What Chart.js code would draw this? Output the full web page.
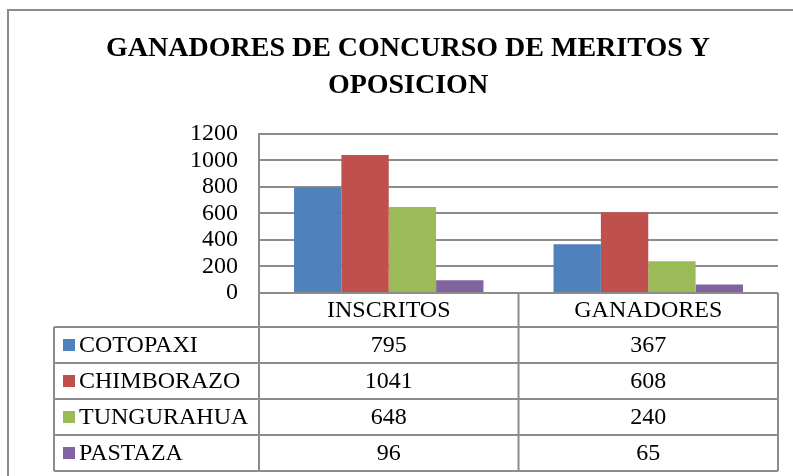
<!DOCTYPE html>
<html>
<head>
<meta charset="utf-8">
<script src="https://cdn.jsdelivr.net/npm/chart.js@4"></script>
<style>
  html, body { margin: 0; padding: 0; background: #ffffff; }
  canvas { display: block; }
</style>
</head>
<body>
<canvas id="grafico" width="793" height="476"></canvas>
<script>
// datos del grafico
const categorias = ["INSCRITOS", "GANADORES"];
const provincias = ["COTOPAXI", "CHIMBORAZO", "TUNGURAHUA", "PASTAZA"];
const cotopaxi = [795, 367];
const chimborazo = [1041, 608];
const tungurahua = [648, 240];
const pastaza = [96, 65];
const colores = ["#4F81BD", "#C0504D", "#9BBB59", "#8064A2"];
const ticksY = [0, 200, 400, 600, 800, 1000, 1200];

const fuente = "'Liberation Serif', 'Times New Roman', serif";
const gris = "#8c8c8c";
const margenIzq = 38;

// borde exterior + tabla de datos debajo del grafico
const tablaDatos = {
  id: "tablaDatos",
  beforeDraw(chart) {
    const ctx = chart.ctx;
    ctx.save();
    ctx.fillStyle = "#ffffff";
    ctx.fillRect(0, 0, chart.width, chart.height);
    ctx.strokeStyle = gris;
    ctx.lineWidth = 2;
    ctx.strokeRect(8, 10, chart.width + 20, chart.height + 20);
    ctx.restore();
  },
  afterDraw(chart) {
    const ctx = chart.ctx;
    const area = chart.chartArea;
    const x = chart.scales.x;
    const series = chart.data.datasets;
    const izq = 54;
    const altoCab = 34;
    const altoFila = 36;
    const yCab = area.bottom;
    const yFilas = yCab + altoCab;
    const yFin = yFilas + altoFila * series.length;
    const paso = x.getPixelForValue(1) - x.getPixelForValue(0);

    ctx.save();
    ctx.strokeStyle = gris;
    ctx.lineWidth = 2;
    ctx.beginPath();
    // lineas verticales
    ctx.moveTo(izq, yFilas); ctx.lineTo(izq, yFin);
    for (let i = 0; i <= categorias.length; i++) {
      const xl = i < categorias.length ? x.getPixelForValue(i) - paso / 2 : area.right;
      ctx.moveTo(xl, yCab); ctx.lineTo(xl, yFin);
    }
    // lineas horizontales
    for (let r = 0; r <= series.length; r++) {
      const yl = yFilas + r * altoFila;
      ctx.moveTo(izq, yl); ctx.lineTo(area.right, yl);
    }
    ctx.stroke();

    ctx.fillStyle = "#000000";
    ctx.font = "24px " + fuente;
    ctx.textBaseline = "middle";
    ctx.textAlign = "center";
    categorias.forEach((c, i) => {
      ctx.fillText(c, x.getPixelForValue(i), yCab + altoCab / 2 + 1);
    });
    series.forEach((ds, r) => {
      const yc = yFilas + r * altoFila + altoFila / 2 + 1;
      ctx.fillStyle = ds.backgroundColor;
      ctx.fillRect(63, yc - 7, 12, 12);
      ctx.fillStyle = "#000000";
      ctx.textAlign = "left";
      ctx.fillText(ds.label, 79, yc);
      ctx.textAlign = "center";
      ds.data.forEach((v, i) => {
        ctx.fillText(String(v), x.getPixelForValue(i), yc);
      });
    });
    ctx.restore();
  }
};

const valores = [cotopaxi, chimborazo, tungurahua, pastaza];

new Chart(document.getElementById("grafico"), {
  type: "bar",
  data: {
    labels: categorias,
    datasets: provincias.map((p, i) => ({
      label: p,
      data: valores[i],
      backgroundColor: colores[i],
      borderWidth: 0,
      categoryPercentage: 0.73,
      barPercentage: 1
    }))
  },
  options: {
    responsive: false,
    animation: false,
    devicePixelRatio: 1,
    layout: { padding: { left: margenIzq, right: 15, top: 0, bottom: 183 } },
    plugins: {
      legend: { display: false },
      tooltip: { enabled: false },
      title: {
        display: true,
        text: ["GANADORES DE CONCURSO DE MERITOS Y", "OPOSICION"],
        color: "#000000",
        font: { family: fuente, size: 28, weight: "bold", lineHeight: 1.3 },
        padding: { top: 31, bottom: 30 }
      }
    },
    scales: {
      x: { display: false },
      y: {
        min: 0,
        max: 1200,
        afterBuildTicks: (scale) => { scale.ticks = ticksY.map(v => ({ value: v })); },
        afterFit: (scale) => { scale.width = 259 - margenIzq; },
        ticks: {
          color: "#000000",
          font: { family: fuente, size: 24 },
          padding: 21,
          autoSkip: false,
          callback: (v) => String(v)
        },
        grid: { color: gris, lineWidth: 2, drawTicks: false },
        border: { display: true, color: gris, width: 2 }
      }
    }
  },
  plugins: [tablaDatos]
});
</script>
</body>
</html>
